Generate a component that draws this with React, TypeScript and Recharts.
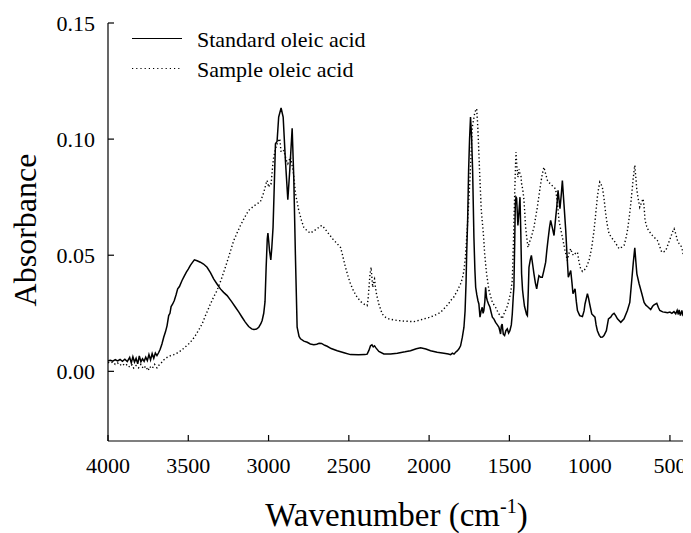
import React from "react";
import { LineChart, Line, XAxis, YAxis } from "recharts";

// standard oleic acid (solid)
const stdWavenumber = [
  4000, 3985, 3970, 3955, 3940, 3925, 3910, 3895, 3880, 3865, 3855, 3845, 3835, 3825, 3815, 3805,
  3795, 3785, 3775, 3765, 3755, 3745, 3735, 3725, 3715, 3705, 3695, 3685, 3675, 3664, 3653, 3642,
  3632, 3622, 3614, 3607, 3597, 3587, 3576, 3566, 3555, 3539, 3525, 3512, 3500, 3487, 3475, 3462,
  3445, 3425, 3405, 3383, 3362, 3342, 3320, 3300, 3280, 3258, 3230, 3206, 3185, 3165, 3145, 3124,
  3105, 3092, 3075, 3061, 3048, 3040, 3030, 3022, 3015, 3008, 3004, 2999, 2994, 2986, 2980, 2972,
  2966, 2957, 2947, 2937, 2922, 2909, 2895, 2880, 2868, 2853, 2843, 2832, 2822, 2810, 2801, 2780,
  2759, 2740, 2718, 2700, 2685, 2670, 2650, 2635, 2610, 2572, 2530, 2490, 2440, 2400, 2386, 2375,
  2365, 2356, 2348, 2340, 2330, 2313, 2282, 2240, 2198, 2150, 2116, 2080, 2053, 2020, 1991, 1950,
  1908, 1880, 1866, 1855, 1845, 1835, 1825, 1814, 1804, 1793, 1783, 1776, 1770, 1766, 1760, 1754,
  1748, 1742, 1735, 1729, 1721, 1715, 1710, 1703, 1696, 1690, 1683, 1676, 1669, 1664, 1659, 1653,
  1648, 1643, 1638, 1630, 1621, 1614, 1606, 1596, 1586, 1575, 1565, 1560, 1555, 1550, 1545, 1538,
  1530, 1522, 1513, 1505, 1497, 1488, 1482, 1476, 1472, 1467, 1463, 1459, 1455, 1447, 1441, 1434,
  1429, 1424, 1418, 1413, 1406, 1399, 1393, 1388, 1383, 1378, 1370, 1363, 1355, 1347, 1338, 1330,
  1323, 1316, 1305, 1295, 1285, 1274, 1267, 1260, 1250, 1243, 1233, 1222, 1212, 1205, 1197, 1185,
  1177, 1170, 1160, 1149, 1141, 1133, 1125, 1118, 1110, 1104, 1091, 1083, 1076, 1062, 1045, 1035,
  1029, 1014, 1007, 1000, 987, 967, 960, 952, 940, 931, 920, 911, 896, 883, 869, 858,
  848, 838, 827, 806, 786, 765, 750, 738, 728, 719, 712, 706, 692, 675, 661, 650,
  640, 620, 608, 599, 582, 572, 563, 545, 530, 515, 500, 488, 475, 464, 455, 448,
  443, 435, 426, 418, 412, 406, 402, 400,
];
const stdAbsorbance = [
  0.0046, 0.0048, 0.0044, 0.005, 0.0045, 0.0051, 0.0043, 0.0052, 0.0042, 0.006, 0.0036, 0.0063, 0.004, 0.0056, 0.0032, 0.0066,
  0.0041, 0.0054, 0.0043, 0.0061, 0.0046, 0.0072, 0.0049, 0.0076, 0.0056, 0.0079, 0.0068, 0.008, 0.0095, 0.0118, 0.0147, 0.017,
  0.0197, 0.024, 0.025, 0.0279, 0.029, 0.0305, 0.033, 0.0355, 0.0365, 0.0391, 0.041, 0.0427, 0.044, 0.0456, 0.0468, 0.048,
  0.0476, 0.047, 0.0462, 0.0448, 0.0425, 0.0398, 0.0375, 0.0355, 0.034, 0.0326, 0.03, 0.0276, 0.0255, 0.0233, 0.0212, 0.0193,
  0.0183, 0.018, 0.0182, 0.019, 0.0205, 0.0219, 0.025, 0.03, 0.0448, 0.057, 0.0595, 0.056, 0.052, 0.048, 0.053, 0.062,
  0.076, 0.098, 0.099, 0.1095, 0.1134, 0.1095, 0.0908, 0.0739, 0.0865, 0.1047, 0.0836, 0.0477, 0.019, 0.015, 0.014, 0.013,
  0.0125, 0.0118, 0.0115, 0.0117, 0.0121, 0.012, 0.0112, 0.0108, 0.0098, 0.0089, 0.008, 0.0072, 0.0071, 0.0072, 0.0074, 0.009,
  0.011, 0.0114, 0.0105, 0.011, 0.01, 0.0086, 0.0075, 0.0075, 0.0078, 0.0084, 0.0089, 0.0097, 0.0101, 0.0096, 0.0089, 0.0082,
  0.0078, 0.0075, 0.0072, 0.0078, 0.0074, 0.0082, 0.0088, 0.0097, 0.011, 0.0147, 0.019, 0.026, 0.038, 0.0506, 0.065, 0.0865,
  0.1, 0.1095, 0.1, 0.0865, 0.0578, 0.044, 0.0362, 0.033, 0.0305, 0.029, 0.0233, 0.026, 0.0276, 0.025, 0.0262, 0.03,
  0.0362, 0.032, 0.0305, 0.029, 0.0276, 0.0255, 0.0233, 0.0225, 0.0211, 0.02, 0.019, 0.0175, 0.0161, 0.0195, 0.0204, 0.016,
  0.0154, 0.0175, 0.0183, 0.0165, 0.0175, 0.02, 0.0247, 0.032, 0.0362, 0.055, 0.0722, 0.075, 0.0745, 0.0628, 0.068, 0.075,
  0.06, 0.042, 0.035, 0.0319, 0.028, 0.0262, 0.0245, 0.024, 0.033, 0.0448, 0.048, 0.0499, 0.046, 0.042, 0.038, 0.0355,
  0.0385, 0.0412, 0.0405, 0.0405, 0.0435, 0.047, 0.052, 0.0563, 0.062, 0.065, 0.062, 0.0585, 0.066, 0.0707, 0.0779, 0.07,
  0.076, 0.0822, 0.072, 0.0606, 0.05, 0.0405, 0.042, 0.0434, 0.038, 0.0334, 0.0355, 0.03, 0.0262, 0.024, 0.0236, 0.026,
  0.029, 0.0334, 0.0315, 0.029, 0.0247, 0.0233, 0.02, 0.0175, 0.0155, 0.0147, 0.0148, 0.0154, 0.0175, 0.0226, 0.0233, 0.0245,
  0.025, 0.024, 0.0226, 0.0211, 0.0226, 0.0262, 0.0297, 0.0391, 0.047, 0.0532, 0.047, 0.042, 0.0377, 0.0334, 0.0297, 0.0285,
  0.0279, 0.0266, 0.028, 0.0286, 0.0293, 0.0275, 0.0262, 0.0256, 0.0254, 0.0252, 0.0255, 0.025, 0.0257, 0.0248, 0.0263, 0.0245,
  0.0265, 0.024, 0.0262, 0.0238, 0.0269, 0.0235, 0.0219, 0.024,
];

// sample oleic acid (dotted)
const sampleWavenumber = [
  4000, 3985, 3970, 3955, 3940, 3925, 3910, 3895, 3880, 3865, 3850, 3840, 3825, 3810, 3795, 3780,
  3765, 3750, 3740, 3725, 3710, 3695, 3685, 3670, 3655, 3640, 3632, 3610, 3590, 3560, 3530, 3498,
  3475, 3456, 3435, 3414, 3390, 3362, 3342, 3321, 3295, 3269, 3243, 3217, 3195, 3175, 3150, 3124,
  3095, 3071, 3051, 3030, 3015, 3009, 2999, 2990, 2984, 2975, 2968, 2951, 2940, 2930, 2922, 2905,
  2890, 2880, 2864, 2847, 2832, 2812, 2795, 2781, 2760, 2739, 2718, 2697, 2680, 2666, 2645, 2625,
  2600, 2572, 2552, 2541, 2521, 2505, 2490, 2470, 2448, 2425, 2407, 2386, 2380, 2376, 2368, 2361,
  2356, 2351, 2345, 2340, 2334, 2328, 2320, 2313, 2292, 2270, 2251, 2225, 2198, 2150, 2095, 2060,
  2032, 2000, 1970, 1940, 1929, 1908, 1880, 1866, 1846, 1824, 1805, 1793, 1783, 1773, 1762, 1746,
  1731, 1715, 1709, 1704, 1699, 1694, 1685, 1675, 1662, 1654, 1642, 1627, 1606, 1586, 1575, 1565,
  1555, 1545, 1535, 1524, 1513, 1503, 1492, 1482, 1475, 1467, 1462, 1459, 1453, 1447, 1440, 1434,
  1428, 1424, 1416, 1409, 1404, 1399, 1391, 1384, 1373, 1363, 1355, 1347, 1336, 1326, 1315, 1305,
  1295, 1285, 1274, 1263, 1253, 1243, 1228, 1212, 1200, 1191, 1180, 1170, 1155, 1139, 1128, 1118,
  1108, 1098, 1087, 1076, 1066, 1056, 1045, 1035, 1020, 1004, 988, 973, 962, 952, 944, 937,
  929, 921, 910, 900, 889, 879, 863, 848, 832, 817, 800, 786, 775, 765, 754, 744,
  737, 730, 724, 719, 712, 706, 697, 688, 678, 667, 660, 655, 645, 634, 620, 609,
  595, 578, 565, 551, 538, 526, 510, 495, 484, 474, 463, 453, 443, 432, 422, 412,
  406, 402, 400,
];
const sampleAbsorbance = [
  0.0039, 0.0035, 0.004, 0.003, 0.0036, 0.0026, 0.0033, 0.0024, 0.003, 0.0018, 0.0028, 0.0014, 0.0025, 0.0015, 0.003, 0.0012,
  0.0022, 0.0003, 0.002, 0.0012, 0.003, 0.0015, 0.0025, 0.0035, 0.0048, 0.0056, 0.006, 0.0068, 0.0072, 0.0082, 0.0098, 0.0118,
  0.0135, 0.0154, 0.0178, 0.0204, 0.0245, 0.029, 0.032, 0.0348, 0.0395, 0.0448, 0.0505, 0.0563, 0.0598, 0.0628, 0.0662, 0.0693,
  0.071, 0.0722, 0.073, 0.077, 0.081, 0.0822, 0.0793, 0.081, 0.0808, 0.088, 0.0922, 0.0973, 0.099, 0.1002, 0.0944, 0.0951,
  0.091, 0.0894, 0.0922, 0.0865, 0.0765, 0.0693, 0.065, 0.0621, 0.0605, 0.0595, 0.0605, 0.0614, 0.0625, 0.0628, 0.061, 0.0592,
  0.057, 0.0549, 0.0534, 0.0506, 0.0448, 0.041, 0.0377, 0.0345, 0.0319, 0.03, 0.029, 0.0283, 0.031, 0.0348, 0.042, 0.0448,
  0.04, 0.0362, 0.039, 0.0398, 0.036, 0.0334, 0.031, 0.029, 0.0247, 0.0232, 0.0226, 0.0222, 0.0219, 0.0216, 0.0214, 0.022,
  0.0226, 0.0232, 0.024, 0.025, 0.0254, 0.0269, 0.029, 0.0305, 0.032, 0.0348, 0.0375, 0.04, 0.0434, 0.05, 0.062, 0.0822,
  0.1052, 0.1116, 0.1125, 0.1131, 0.108, 0.1009, 0.0851, 0.0693, 0.0592, 0.0506, 0.042, 0.0348, 0.0297, 0.0276, 0.026, 0.0247,
  0.024, 0.0226, 0.0245, 0.0262, 0.028, 0.0305, 0.034, 0.0391, 0.055, 0.0765, 0.088, 0.0944, 0.088, 0.0836, 0.087, 0.0851,
  0.084, 0.0808, 0.078, 0.0736, 0.068, 0.0621, 0.057, 0.0534, 0.056, 0.0578, 0.06, 0.0621, 0.0665, 0.0707, 0.076, 0.0808,
  0.085, 0.0879, 0.085, 0.0822, 0.0812, 0.0808, 0.0795, 0.0786, 0.072, 0.065, 0.061, 0.0578, 0.0525, 0.0477, 0.051, 0.0528,
  0.0505, 0.0499, 0.051, 0.0513, 0.047, 0.0441, 0.043, 0.0434, 0.045, 0.0477, 0.053, 0.0606, 0.068, 0.075, 0.079, 0.0815,
  0.0805, 0.0793, 0.074, 0.0678, 0.0625, 0.0592, 0.0575, 0.0563, 0.0545, 0.0528, 0.0535, 0.0542, 0.057, 0.0606, 0.066, 0.0722,
  0.077, 0.0822, 0.086, 0.0887, 0.083, 0.0779, 0.074, 0.0707, 0.0725, 0.0743, 0.07, 0.065, 0.0625, 0.0606, 0.0595, 0.0585,
  0.0575, 0.0563, 0.054, 0.0513, 0.0515, 0.052, 0.055, 0.0578, 0.06, 0.0614, 0.059, 0.0563, 0.055, 0.0542, 0.052, 0.0484,
  0.051, 0.052, 0.05,
];

const xTicks = [4000, 3500, 3000, 2500, 2000, 1500, 1000, 500];
const yTicks = [0, 0.05, 0.1, 0.15];

const stdData = stdWavenumber.map((w, i) => ({ w, v: stdAbsorbance[i] }));
const sampleData = sampleWavenumber.map((w, i) => ({ w, v: sampleAbsorbance[i] }));

const FONT = "'Liberation Serif', 'Times New Roman', serif";

const XTick = (props: any) => {
  const { x, y, payload } = props;
  return (
    <g>
      <line x1={x} y1={y} x2={x} y2={y - 6} stroke="#000" strokeWidth={1.2} />
      <text x={x} y={y + 32} textAnchor="middle" fontSize={22} fontFamily={FONT} fill="#000">
        {payload.value}
      </text>
    </g>
  );
};

const YTick = (props: any) => {
  const { x, y, payload } = props;
  return (
    <g>
      <line x1={x} y1={y} x2={x + 6} y2={y} stroke="#000" strokeWidth={1.2} />
      <text x={x - 13} y={y} dy="0.35em" textAnchor="end" fontSize={22} fontFamily={FONT} fill="#000">
        {Number(payload.value).toFixed(2)}
      </text>
    </g>
  );
};

export default function App() {
  return (
    <LineChart width={683} height={525} margin={{ top: 15, right: 5, left: 0, bottom: 0 }}>
      <XAxis
        dataKey="w"
        type="number"
        domain={[400, 4000]}
        reversed
        ticks={xTicks}
        allowDataOverflow
        height={92}
        tickSize={0}
        tickMargin={0}
        tickLine={false}
        tick={<XTick />}
        axisLine={{ stroke: "#000", strokeWidth: 1.2 }}
      />
      <YAxis
        dataKey="v"
        type="number"
        domain={[-0.03, 0.15]}
        ticks={yTicks}
        allowDataOverflow
        width={100}
        tickSize={0}
        tickMargin={0}
        tickLine={false}
        tick={<YTick />}
        axisLine={{ stroke: "#000", strokeWidth: 1.2 }}
      />
      <Line
        data={stdData}
        dataKey="v"
        name="Standard oleic acid"
        type="linear"
        stroke="#000"
        strokeWidth={1.5}
        dot={false}
        isAnimationActive={false}
      />
      <Line
        data={sampleData}
        dataKey="v"
        name="Sample oleic acid"
        type="linear"
        stroke="#000"
        strokeWidth={1.4}
        strokeDasharray="1.3 2.4"
        dot={false}
        isAnimationActive={false}
      />
      {/* legend */}
      <line x1={124} y1={30.5} x2={174} y2={30.5} stroke="#000" strokeWidth={1.2} />
      <text x={189} y={38.7} fontSize={22} fontFamily={FONT} fill="#000">Standard oleic acid</text>
      <line x1={124} y1={60.5} x2={174} y2={60.5} stroke="#000" strokeWidth={1.2} strokeDasharray="1.2 3" />
      <text x={189} y={69.3} fontSize={22} fontFamily={FONT} fill="#000">Sample oleic acid</text>
      {/* axis titles */}
      <text x={388.5} y={517.5} textAnchor="middle" fontSize={33} fontFamily={FONT} fill="#000">
        Wavenumber (cm<tspan fontSize={20} dy={-13}>-1</tspan><tspan dy={13}>)</tspan>
      </text>
      <text
        x={28}
        y={222}
        textAnchor="middle"
        fontSize={32}
        fontFamily={FONT}
        fill="#000"
        transform="rotate(-90, 28, 222)"
      >
        Absorbance
      </text>
    </LineChart>
  );
}
